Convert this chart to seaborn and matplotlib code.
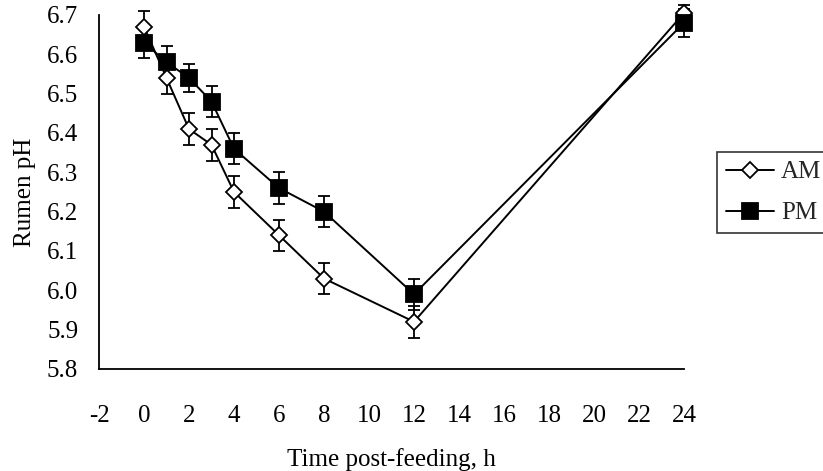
import matplotlib
matplotlib.use("Agg")
import matplotlib.pyplot as plt
import seaborn as sns
import pandas as pd
import numpy as np

sns.set_theme(style="white")
plt.rcParams['font.family'] = ['Liberation Serif', 'DejaVu Serif']

hours = [0, 1, 2, 3, 4, 6, 8, 12, 24]
am_ph = [6.67, 6.54, 6.41, 6.37, 6.25, 6.14, 6.03, 5.92, 6.705]
am_se = [0.04, 0.04, 0.04, 0.04, 0.04, 0.04, 0.04, 0.04, 0.02]
pm_ph = [6.63, 6.58, 6.54, 6.48, 6.36, 6.26, 6.20, 5.99, 6.68]
pm_se = [0.04, 0.04, 0.035, 0.04, 0.04, 0.04, 0.04, 0.04, 0.035]
series = ["AM", "PM"]
x_ticks = list(range(-2, 25, 2))
x_tick_labels = ["-2", "0", "2", "4", "6", "8", "10", "12", "14", "16", "18", "20", "22", "24"]
y_ticks = [5.8, 5.9, 6.0, 6.1, 6.2, 6.3, 6.4, 6.5, 6.6, 6.7]
y_tick_labels = ["5.8", "5.9", "6.0", "6.1", "6.2", "6.3", "6.4", "6.5", "6.6", "6.7"]

df = pd.DataFrame({
    "hour": hours * 2,
    "ph": am_ph + pm_ph,
    "se": am_se + pm_se,
    "group": [series[0]] * len(hours) + [series[1]] * len(hours),
})

fig = plt.figure(figsize=(8.23, 4.71), dpi=100)
ax = fig.add_axes([0.1203, 0.2166, 0.7108, 0.7516])

styles = {"AM": dict(marker="D", mfc="white", ms=8),
          "PM": dict(marker="s", mfc="black", ms=12)}

for g in series:
    d = df[df.group == g]
    ax.errorbar(d.hour, d.ph, yerr=d.se, fmt="none", ecolor="black",
                elinewidth=1.3, capsize=4.5, capthick=1.3, clip_on=False, zorder=2)
for g in series:
    d = df[df.group == g]
    sns.lineplot(data=d, x="hour", y="ph", ax=ax, color="black", lw=1.4,
                 marker=styles[g]["marker"], markersize=styles[g]["ms"],
                 markerfacecolor=styles[g]["mfc"], markeredgecolor="black",
                 markeredgewidth=1.3, label=g, clip_on=False, zorder=3,
                 legend=False)

ax.set_xlim(-2, 24)
ax.set_ylim(5.8, 6.7)
ax.set_xticks(x_ticks)
ax.set_xticklabels(x_tick_labels)
ax.set_yticks(y_ticks)
ax.set_yticklabels(y_tick_labels)
for s in ["top", "right"]:
    ax.spines[s].set_visible(False)
for s in ["left", "bottom"]:
    ax.spines[s].set_color("black")
    ax.spines[s].set_linewidth(1.3)
ax.tick_params(axis="x", direction="out", length=7, width=1.3, pad=19,
               labelsize=18, colors="black")
ax.tick_params(axis="y", direction="out", length=7, width=1.3, pad=8,
               labelsize=18, colors="black")
ax.set_xlabel("Time post-feeding, h", fontsize=18, labelpad=15, color="black")
ax.set_ylabel("Rumen pH", fontsize=18, labelpad=8, color="black")

handles, labels = ax.get_legend_handles_labels()
leg = fig.legend(handles, labels, loc="upper left",
                 bbox_to_anchor=(717 / 823, 1 - 152 / 471),
                 frameon=True, fontsize=18, handlelength=1.9,
                 handletextpad=0.3, borderpad=0.36, labelspacing=0.74,
                 borderaxespad=0, fancybox=False, edgecolor="black")
leg.get_frame().set_linewidth(1.2)

fig.savefig("out.png", dpi=100, facecolor="white")
